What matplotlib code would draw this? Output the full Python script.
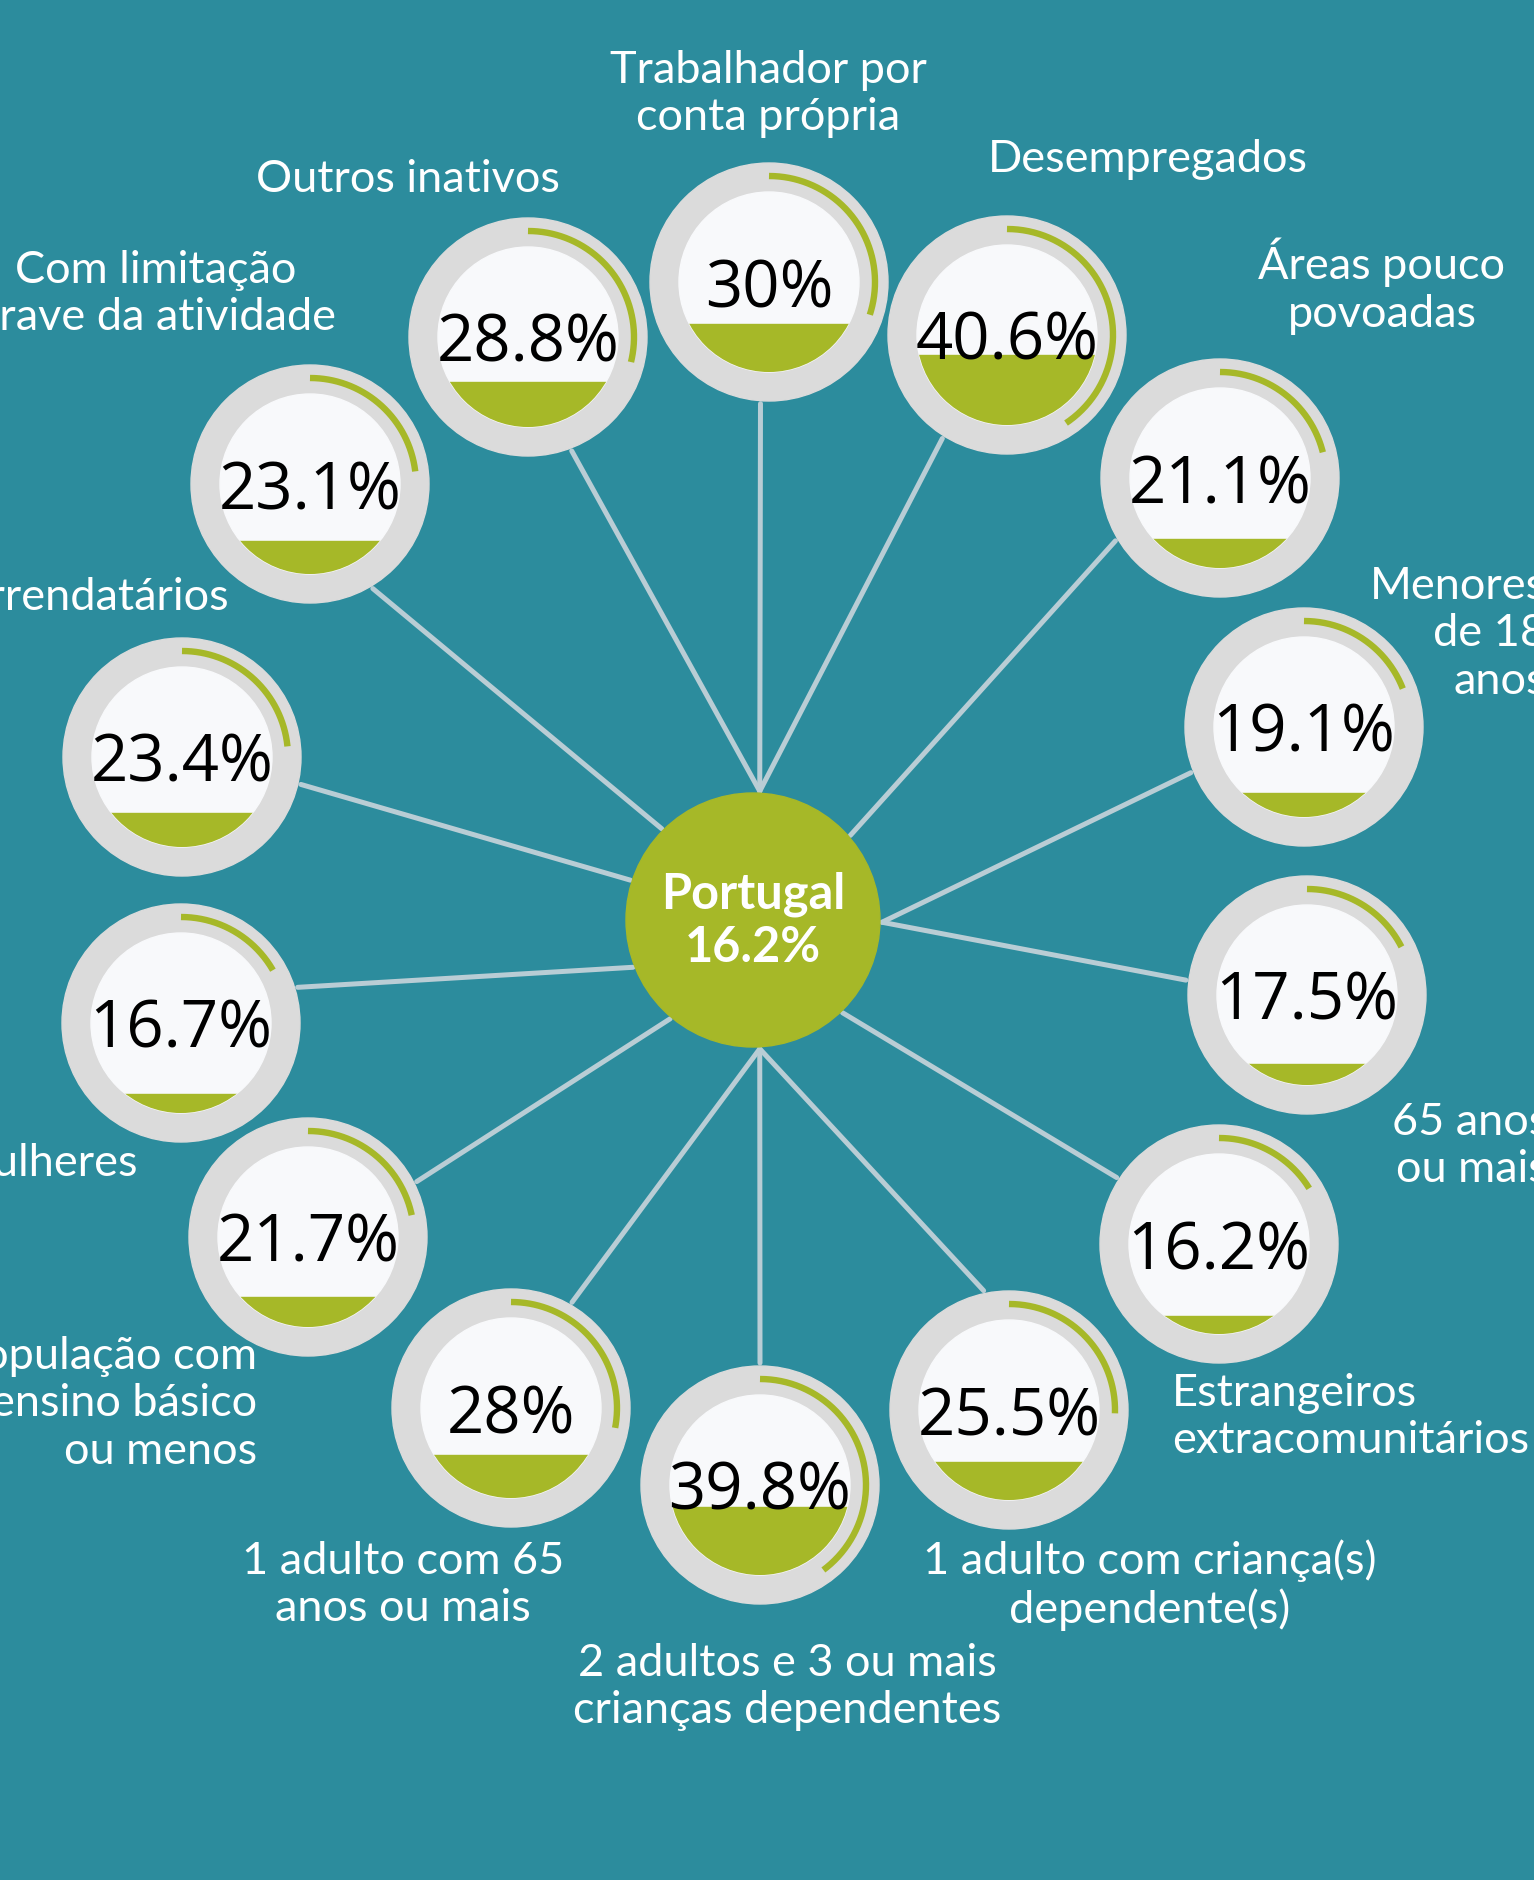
import numpy as np
import matplotlib.pyplot as plt
from matplotlib.patches import Circle, Rectangle

# data, clockwise from the top
labels = [
    "Trabalhador por\nconta própria",
    "Desempregados",
    "Áreas pouco\npovoadas",
    "Menores\nde 18\nanos",
    "65 anos\nou mais",
    "Estrangeiros\nextracomunitários",
    "1 adulto com criança(s)\ndependente(s)",
    "2 adultos e 3 ou mais\ncrianças dependentes",
    "1 adulto com 65\nanos ou mais",
    "População com\nensino básico\nou menos",
    "Mulheres",
    "Arrendatários",
    "Com limitação\ngrave da atividade",
    "Outros inativos",
]
values = [30, 40.6, 21.1, 19.1, 17.5, 16.2, 25.5, 39.8, 28, 21.7, 16.7, 23.4, 23.1, 28.8]
hub_label = "Portugal"
hub_value = 16.2

# layout (pixels, y down)
node_xy = [(769, 283), (1007, 336), (1220, 479), (1304, 728), (1307, 996),
           (1219, 1245), (1009, 1411), (760, 1486), (511, 1409), (308, 1238),
           (181, 1024), (182, 758), (310, 485), (528, 338)]
hub_angle = [3, 3, 49, 91, 91, 136, 177, 177, 177, 220, 248.5, 288, 315, 3]
node_angle = [184, 212, 239, 248, 277, 303, 348, 0, 30, 63, 73, 103, 149, 159]
label_pos = [(768, 94, 'center'), (1148, 160, 'center'), (1382, 286, 'center'),
             (1546, 634, 'right'), (1548, 1146, 'right'), (1172, 1417, 'left'),
             (1150, 1585, 'center'), (787, 1687, 'center'), (403, 1585, 'center'),
             (257, 1404, 'right'), (138, 1163, 'right'), (229, 598, 'right'),
             (156, 294, 'center'), (408, 180, 'center')]

BG = '#2C8C9D'
GREEN = '#A6B828'
GRAY = '#DBDBDB'
WHITE = '#F8F9FB'
LINE = '#B9CDD5'

hub_c = (753, 921)
hub_r = 127
r_out, r_in, r_arc = 119, 90, 106

fig = plt.figure(figsize=(15.34, 18.81), dpi=100)
fig.patch.set_facecolor(BG)
ax = fig.add_axes([0, 0, 1, 1])
ax.set_facecolor(BG)
ax.set_xlim(0, 1534)
ax.set_ylim(1881, 0)
ax.set_aspect('equal')
ax.axis('off')

def pt(c, r, ang):
    a = np.radians(ang)
    return c[0] + r * np.sin(a), c[1] - r * np.cos(a)

# connectors
for i in range(len(values)):
    x0, y0 = pt(hub_c, hub_r + 2, hub_angle[i])
    x1, y1 = pt(node_xy[i], r_out + 3, node_angle[i])
    ax.plot([x0, x1], [y0, y1], color=LINE, lw=3.6, solid_capstyle='round', zorder=1)

# hub
ax.add_patch(Circle(hub_c, hub_r, color=GREEN, zorder=3))
ax.text(hub_c[0], hub_c[1] - 27, hub_label, color='white', fontsize=35, family='Lato',
        weight='bold', ha='center', va='center', zorder=4)
ax.text(hub_c[0], hub_c[1] + 27, f"{hub_value:g}%", color='white', fontsize=35, family='Lato',
        weight='bold', ha='center', va='center', zorder=4)

# nodes
for i, v in enumerate(values):
    cx, cy = node_xy[i]
    ax.add_patch(Circle((cx, cy), r_out, color=GRAY, zorder=3))
    inner = Circle((cx, cy), r_in, color=WHITE, zorder=4)
    ax.add_patch(inner)
    level = cy + r_arc - v / 100 * 2 * r_arc
    fill = Rectangle((cx - r_in, level), 2 * r_in, cy + r_in - level, color=GREEN, zorder=5)
    ax.add_patch(fill)
    fill.set_clip_path(inner)
    th = np.linspace(0, v / 100 * 360, 200)
    arc_x, arc_y = pt((cx, cy), r_arc, th)
    ax.plot(arc_x, arc_y, color=GREEN, lw=4.6, solid_capstyle='butt', zorder=6)
    ax.text(cx, cy + 24, f"{v:g}%", fontsize=47, family='Open Sans', color='black',
            ha='center', va='baseline', zorder=7)

# labels
for i, lab in enumerate(labels):
    x, y, ha = label_pos[i]
    ax.text(x, y, lab, color='white', fontsize=32.5, family='Lato', ha=ha, va='center',
            multialignment=ha, linespacing=1.2, zorder=2)

plt.savefig('out.png', dpi=100, facecolor=BG)
